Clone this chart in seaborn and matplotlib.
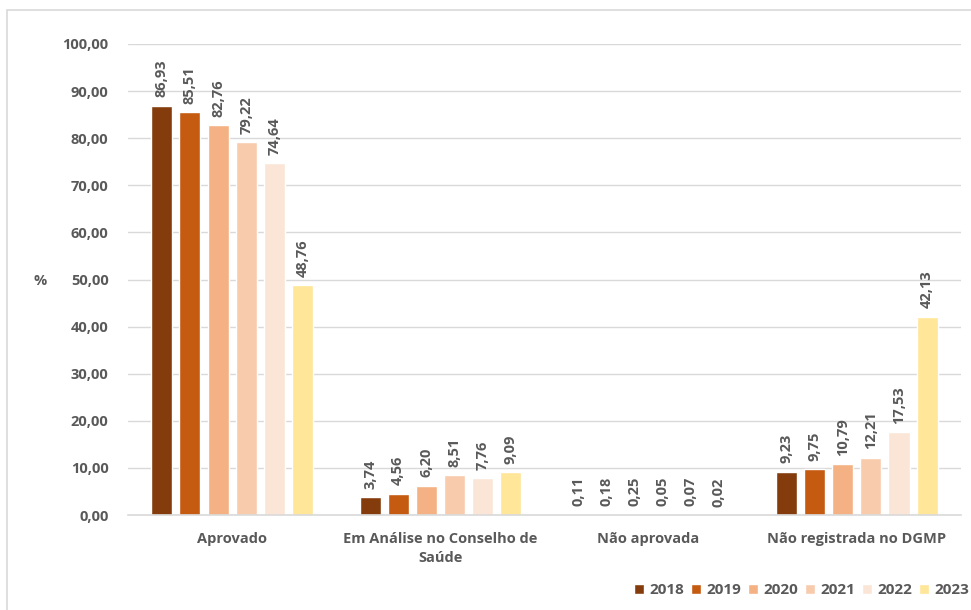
import matplotlib
matplotlib.use("Agg")
import matplotlib.pyplot as plt
import seaborn as sns
import pandas as pd
from matplotlib.patches import Rectangle

categories = ["Aprovado", "Em Análise no Conselho de\nSaúde", "Não aprovada", "Não registrada no DGMP"]
years = ["2018", "2019", "2020", "2021", "2022", "2023"]
values = {
    "2018": [86.93, 3.74, 0.11, 9.23],
    "2019": [85.51, 4.56, 0.18, 9.75],
    "2020": [82.76, 6.20, 0.25, 10.79],
    "2021": [79.22, 8.51, 0.05, 12.21],
    "2022": [74.64, 7.76, 0.07, 17.53],
    "2023": [48.76, 9.09, 0.02, 42.13],
}
colors = ["#843C0C", "#C55A11", "#F4B183", "#F8CBAD", "#FBE5D6", "#FFE699"]
yticks = [0, 10, 20, 30, 40, 50, 60, 70, 80, 90, 100]

rows = []
for y in years:
    for c, v in zip(categories, values[y]):
        rows.append({"cat": c, "year": y, "val": v})
df = pd.DataFrame(rows)

sns.set_theme(style="white")
plt.rcParams["font.family"] = ["Open Sans", "DejaVu Sans"]
txt = "#595959"

fig = plt.figure(figsize=(9.71, 6.10), dpi=100)
ax = fig.add_axes([0.1318, 0.1557, 0.8579, 0.7722])

sns.barplot(data=df, x="cat", y="val", hue="year", palette=colors,
            order=categories, hue_order=years, width=0.81, gap=0.25,
            ax=ax, legend=True, saturation=1)

for cont in ax.containers:
    ax.bar_label(cont, labels=[f"{b.get_height():.2f}".replace(".", ",") for b in cont],
                 rotation=90, padding=6, fontsize=10.5, fontweight="bold", color=txt)

ax.set_ylim(0, 100)
ax.set_xlim(-0.5, 3.5)
ax.set_yticks(yticks)
ax.set_yticklabels([f"{t:.2f}".replace(".", ",") for t in yticks])
ax.yaxis.grid(True, color="#D9D9D9", linewidth=1)
ax.set_axisbelow(True)
for s in ["top", "right", "left"]:
    ax.spines[s].set_visible(False)
ax.spines["bottom"].set_color("#D9D9D9")
ax.spines["bottom"].set_linewidth(1.2)
ax.tick_params(axis="both", length=0, labelsize=10.5, labelcolor=txt, pad=14)
ax.tick_params(axis="x", pad=12)
for lab in ax.get_xticklabels() + ax.get_yticklabels():
    lab.set_fontweight("bold")
for lab in ax.get_xticklabels():
    lab.set_linespacing(1.45)
ax.set_xlabel("")
ax.set_ylabel("")
fig.text(40 / 971, 1 - 281 / 610, "%", ha="center", va="center",
         fontsize=10.5, fontweight="bold", color=txt)

leg = ax.legend(loc="center right", bbox_to_anchor=(1.012, 1 - 590 / 610),
                bbox_transform=fig.transFigure, ncol=6, frameon=False,
                handlelength=0.65, handleheight=0.65, handletextpad=0.35,
                columnspacing=0.45, prop={"size": 11, "weight": "bold"})
for t in leg.get_texts():
    t.set_color(txt)

fig.patches.append(Rectangle((7 / 971, -0.01), 1.0, 1 - 10 / 610 + 0.01,
                             transform=fig.transFigure, fill=False,
                             edgecolor="#D9D9D9", linewidth=1.2, zorder=-1))

fig.savefig("out.png", dpi=100)
